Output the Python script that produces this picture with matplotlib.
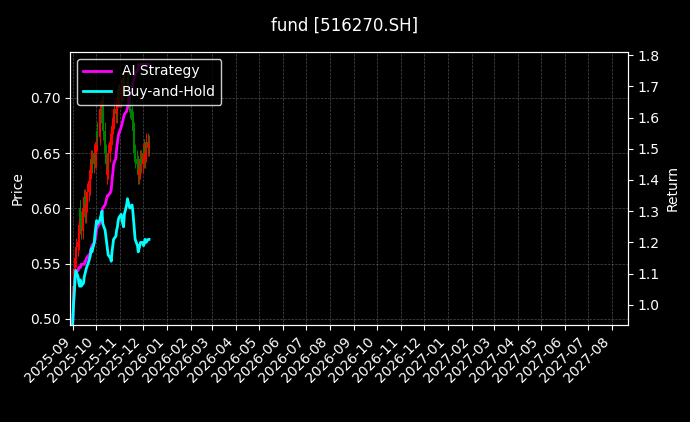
import matplotlib
matplotlib.use("Agg")
import matplotlib.pyplot as plt
import matplotlib.dates as mdates
import pandas as pd

close = [0.520,0.530,0.545,0.555,0.565,0.570,0.585,0.600,0.590,0.580,0.600,0.610,0.595,
         0.605,0.615,0.625,0.620,0.635,0.645,0.640,0.650,0.645,0.660,0.670,0.665,0.680,0.690,0.685,0.695,
         0.670,0.650,0.640,0.630,0.635,0.650,0.660,0.665,0.675,0.680,0.690,0.685,0.695,0.700,0.705,0.700,0.710,
         0.705,0.715,0.720,0.710,0.705,0.715,0.700,0.695,0.690,0.680,0.670,0.665,0.650,0.645,0.640,0.630,0.635,
         0.645,0.640,0.650,0.655,0.645,0.650,0.660,0.655,0.658]
bh = [0.94,1.00,1.04,1.08,1.11,1.09,1.07,1.06,1.08,1.06,1.07,1.09,1.10,1.11,1.12,1.14,1.15,1.16,1.18,1.17,1.20,1.23,1.25,1.27,
      1.26,1.27,1.28,1.29,1.30,1.26,1.24,1.22,1.20,1.18,1.16,1.15,1.14,1.17,1.19,1.21,1.22,1.24,1.25,1.27,1.28,1.29,1.27,1.26,1.25,
      1.29,1.32,1.34,1.33,1.32,1.31,1.32,1.30,1.27,1.24,1.21,1.19,1.17,1.18,1.19,1.20,1.20,1.19,1.20,1.21,1.20,1.21,1.21]
ai = [0.94,1.00,1.04,1.08,1.11,1.11,1.12,1.12,1.12,1.13,1.13,1.13,1.14,1.14,1.15,1.16,1.16,1.17,1.18,1.19,1.20,1.21,1.22,1.24,
      1.25,1.26,1.27,1.28,1.30,1.31,1.32,1.33,1.34,1.35,1.35,1.36,1.37,1.40,1.42,1.45,1.47,1.50,1.52,1.54,1.55,1.57,1.58,1.59,1.60,
      1.61,1.62,1.63,1.64,1.65,1.67,1.69,1.71,1.72,1.73,1.74,1.75,1.76,1.77,1.77,1.77,1.77,1.77,1.77,1.77,1.77,1.77,1.77]
dates = pd.bdate_range("2025-09-01", periods=len(close))
opens = [close[0] - 0.008] + close[:-1]

fig = plt.figure(figsize=(6.9, 4.22), dpi=100, facecolor="black")
ax = fig.add_axes([0.102, 0.23, 0.808, 0.647], facecolor="black")
for d, o, c in zip(dates, opens, close):
    col = "red" if c >= o else "green"
    ax.vlines(d, min(o, c) - 0.008, max(o, c) + 0.008, color=col, lw=0.7)
    ax.vlines(d, min(o, c), max(o, c), color=col, lw=1.5)
ax.set_ylim(0.4946, 0.7416)
ax.set_ylabel("Price", color="white")
ax2 = ax.twinx()
l1, = ax2.plot(dates, ai, color="magenta", lw=2, label="AI Strategy")
l2, = ax2.plot(dates, bh, color="cyan", lw=2, label="Buy-and-Hold")
ax2.set_ylim(0.936, 1.81)
ax2.set_ylabel("Return", color="white")
ax.set_xlim(pd.Timestamp("2025-08-29"), pd.Timestamp("2027-08-22"))
ax.xaxis.set_major_locator(mdates.MonthLocator())
ax.xaxis.set_major_formatter(mdates.DateFormatter("%Y-%m"))
plt.setp(ax.get_xticklabels(), rotation=45, ha="right")
ax.grid(True, color="gray", ls="--", lw=0.5, alpha=0.6)
for a in (ax, ax2):
    a.tick_params(colors="white")
    for s in a.spines.values():
        s.set_color("white")
ax2.legend(handles=[l1, l2], loc="upper left", facecolor="black", edgecolor="white", labelcolor="white")
fig.suptitle("fund [516270.SH]", color="white", y=0.96)
fig.savefig("out.png", facecolor="black")
